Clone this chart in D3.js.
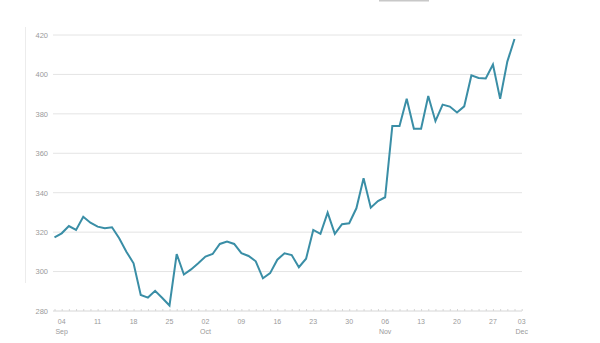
<!DOCTYPE html>
<html>
<head>
<meta charset="utf-8">
<script src="https://cdn.jsdelivr.net/npm/d3@7"></script>
<style>
  html, body { margin: 0; padding: 0; background: #fff; }
  svg { display: block; }
  text { font-family: "Liberation Sans", Arial, sans-serif; }
</style>
</head>
<body>
<svg id="chart" width="600" height="343"></svg>
<script>
// Trading days (weekdays) Sep 3 – Dec 2, 2019
const dates = [
  "2019-09-03","2019-09-04","2019-09-05","2019-09-06",
  "2019-09-09","2019-09-10","2019-09-11","2019-09-12","2019-09-13",
  "2019-09-16","2019-09-17","2019-09-18","2019-09-19","2019-09-20",
  "2019-09-23","2019-09-24","2019-09-25","2019-09-26","2019-09-27",
  "2019-09-30","2019-10-01","2019-10-02","2019-10-03","2019-10-04",
  "2019-10-07","2019-10-08","2019-10-09","2019-10-10","2019-10-11",
  "2019-10-14","2019-10-15","2019-10-16","2019-10-17","2019-10-18",
  "2019-10-21","2019-10-22","2019-10-23","2019-10-24","2019-10-25",
  "2019-10-28","2019-10-29","2019-10-30","2019-10-31","2019-11-01",
  "2019-11-04","2019-11-05","2019-11-06","2019-11-07","2019-11-08",
  "2019-11-11","2019-11-12","2019-11-13","2019-11-14","2019-11-15",
  "2019-11-18","2019-11-19","2019-11-20","2019-11-21","2019-11-22",
  "2019-11-25","2019-11-26","2019-11-27","2019-11-28","2019-11-29",
  "2019-12-02"
];
const values = [
  317.4, 319.4, 323.1, 321.1,
  327.8, 324.8, 322.8, 322.0, 322.5,
  316.9, 310.1, 304.2, 288.1, 286.8,
  290.2, 286.6, 282.8, 308.9, 298.5,
  301.1, 304.2, 307.6, 308.9, 314.0,
  315.2, 314.0, 309.3, 307.9, 305.2,
  296.6, 299.2, 306.0, 309.3, 308.4,
  302.2, 306.5, 321.1, 319.1, 329.9,
  319.1, 324.0, 324.5, 332.1, 347.3,
  332.4, 335.8, 337.7, 373.9, 373.9,
  387.7, 372.5, 372.5, 389.1, 376.3,
  384.7, 383.7, 380.7, 383.8, 399.5,
  398.2, 397.9, 405.0, 387.6, 406.5,
  418.0
];
const axisEndDate = "2019-12-03";
const tickDates = [
  "2019-09-04","2019-09-11","2019-09-18","2019-09-25",
  "2019-10-02","2019-10-09","2019-10-16","2019-10-23","2019-10-30",
  "2019-11-06","2019-11-13","2019-11-20","2019-11-27","2019-12-03"
];
const yTicks = [280, 300, 320, 340, 360, 380, 400, 420];

const svg = d3.select("#chart");
const axisDates = dates.concat([axisEndDate]);
const parse = d3.timeParse("%Y-%m-%d");
const fmtDay = d3.timeFormat("%d");
const fmtMon = d3.timeFormat("%b");

const x = d3.scalePoint().domain(axisDates).range([54.5, 521.7]).padding(0);
const y = d3.scaleLinear().domain([280, 420]).range([311, 35]);

// decorative artifacts from reference
svg.append("line").attr("x1", 25.5).attr("x2", 25.5).attr("y1", 27).attr("y2", 283)
  .attr("stroke", "#ececec").attr("stroke-width", 1);
svg.append("rect").attr("x", 379).attr("y", 0).attr("width", 50).attr("height", 1.5)
  .attr("fill", "#c8c8c8");

// gridlines
const grid = svg.append("g");
grid.selectAll("line").data(yTicks.filter(d => d !== 280)).join("line")
  .attr("x1", 53).attr("x2", 522)
  .attr("y1", d => y(d)).attr("y2", d => y(d))
  .attr("stroke", "#e4e4e4").attr("stroke-width", 1);

// y labels
svg.append("g").selectAll("text").data(yTicks).join("text")
  .attr("x", 48).attr("y", d => y(d) + 2.8)
  .attr("text-anchor", "end")
  .attr("font-size", 7.5).attr("fill", "#9a9a9a")
  .text(d => d);

// x axis baseline with small day ticks
const xAxis = d3.axisBottom(x).tickValues(axisDates).tickSize(-2).tickFormat("");
const gx = svg.append("g").attr("transform", `translate(0,${y(280)})`).call(xAxis);
gx.select(".domain").attr("stroke", "#d6d6d6").attr("d", `M53,0H522`);
gx.selectAll(".tick line").attr("stroke", "#d6d6d6");

// x tick labels
const lbl = svg.append("g");
let lastMonth = null;
tickDates.forEach(d => {
  const dt = parse(d);
  lbl.append("text").attr("x", x(d)).attr("y", 323.5)
    .attr("text-anchor", "middle").attr("font-size", 7).attr("fill", "#9a9a9a")
    .text(fmtDay(dt));
  const m = fmtMon(dt);
  if (m !== lastMonth) {
    lbl.append("text").attr("x", x(d)).attr("y", 334)
      .attr("text-anchor", "middle").attr("font-size", 7).attr("fill", "#9a9a9a")
      .text(m);
    lastMonth = m;
  }
});

// line
const line = d3.line().x((d, i) => x(dates[i])).y(d => y(d));
svg.append("path").datum(values)
  .attr("d", line)
  .attr("fill", "none")
  .attr("stroke", "#3a8ea6")
  .attr("stroke-width", 2)
  .attr("stroke-linejoin", "miter");
</script>
</body>
</html>
